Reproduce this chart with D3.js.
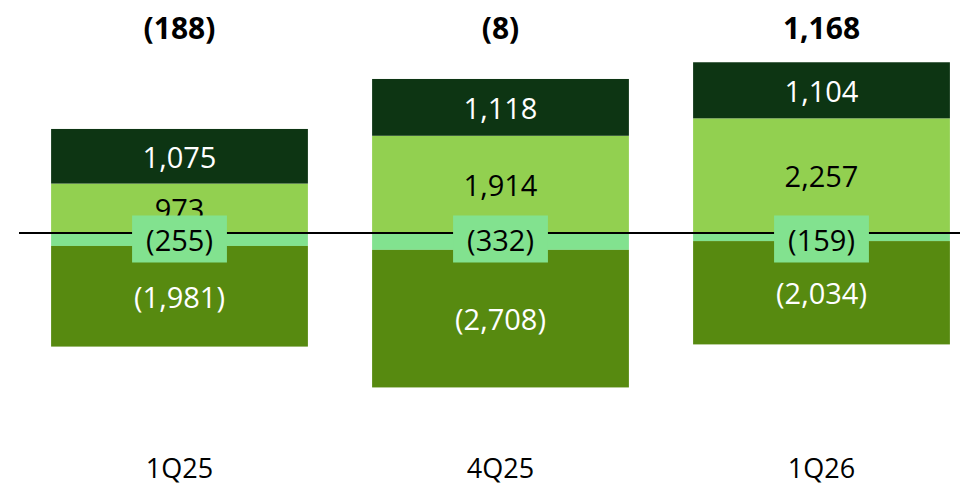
<!DOCTYPE html>
<html>
<head>
<meta charset="utf-8">
<script src="https://cdn.jsdelivr.net/npm/d3@7"></script>
<style>
  html, body { margin: 0; padding: 0; background: #fff; }
  svg { display: block; font-family: "Open Sans", sans-serif; }
</style>
</head>
<body>
<svg id="chart" width="960" height="486"></svg>
<script>
// Quarterly bridge: two positive contributions, two negative, net total on top
const categories = ["1Q25", "4Q25", "1Q26"];
const topValues = [1075, 1118, 1104];        // dark green, stacked highest
const upperValues = [973, 1914, 2257];       // light green, sits on zero
const smallNegValues = [-255, -332, -159];   // mint, just below zero
const largeNegValues = [-1981, -2708, -2034];// olive, bottom of stack

const seriesDefs = [
  { key: "upper", values: upperValues, fill: "#92D050", text: "#000" },
  { key: "top", values: topValues, fill: "#0D3513", text: "#fff" },
  { key: "smallNeg", values: smallNegValues, fill: "#82E28F", text: "#000" },
  { key: "largeNeg", values: largeNegValues, fill: "#578A10", text: "#fff" }
];

const totals = categories.map((c, i) =>
  topValues[i] + upperValues[i] + smallNegValues[i] + largeNegValues[i]);

const fmt = v => v < 0 ? "(" + d3.format(",")(-v) + ")" : d3.format(",")(v);

const svg = d3.select("#chart");
const W = 960, H = 486;

const x = d3.scaleBand()
  .domain(categories)
  .range([19, 982])
  .paddingInner(0.2)
  .paddingOuter(0.1);

const y = d3.scaleLinear()
  .domain([-3000, 4000])
  .range([385.4, 29.8]);

// Build stacked segments: positives upward from zero, negatives downward
const segments = [];
categories.forEach((c, i) => {
  let pos = 0, neg = 0;
  seriesDefs.forEach(s => {
    const v = s.values[i];
    let y0, y1;
    if (v >= 0) { y0 = pos; y1 = pos + v; pos = y1; }
    else { y0 = neg; y1 = neg + v; neg = y1; }
    segments.push({ cat: c, key: s.key, value: v, y0, y1, fill: s.fill, text: s.text });
  });
});

const bars = svg.append("g");
bars.selectAll("rect")
  .data(segments)
  .join("rect")
  .attr("x", d => x(d.cat))
  .attr("width", x.bandwidth())
  .attr("y", d => Math.min(y(d.y0), y(d.y1)))
  .attr("height", d => Math.abs(y(d.y0) - y(d.y1)))
  .attr("fill", d => d.fill);

// Labels for all segments except the mint ones (those get boxed labels)
svg.append("g").selectAll("text")
  .data(segments.filter(d => d.key !== "smallNeg"))
  .join("text")
  .attr("x", d => x(d.cat) + x.bandwidth() / 2)
  .attr("y", d => y((d.y0 + d.y1) / 2))
  .attr("text-anchor", "middle")
  .attr("dominant-baseline", "central")
  .attr("font-size", 29)
  .attr("fill", d => d.text)
  .text(d => fmt(d.value));

// Zero baseline
svg.append("line")
  .attr("x1", 19).attr("x2", W)
  .attr("y1", y(0)).attr("y2", y(0))
  .attr("stroke", "#000")
  .attr("stroke-width", 1.8);

// Boxed labels for the mint segment, straddling the zero line
const boxG = svg.append("g").selectAll("g")
  .data(segments.filter(d => d.key === "smallNeg"))
  .join("g")
  .attr("transform", d => `translate(${x(d.cat) + x.bandwidth() / 2},${y(0) + 6})`);

boxG.append("text")
  .attr("text-anchor", "middle")
  .attr("dominant-baseline", "central")
  .attr("font-size", 29)
  .attr("fill", "#000")
  .text(d => fmt(d.value));

boxG.each(function() {
  const g = d3.select(this);
  const bb = g.select("text").node().getBBox();
  g.insert("rect", "text")
    .attr("x", bb.x - 14)
    .attr("width", bb.width + 28)
    .attr("y", -23.5)
    .attr("height", 47)
    .attr("fill", "#82E28F");
});

// Net totals above each bar
svg.append("g").selectAll("text")
  .data(categories)
  .join("text")
  .attr("x", d => x(d) + x.bandwidth() / 2)
  .attr("y", 39)
  .attr("text-anchor", "middle")
  .attr("font-size", 30)
  .attr("font-weight", 700)
  .attr("fill", "#000")
  .text((d, i) => fmt(totals[i]));

// Category labels
svg.append("g").selectAll("text")
  .data(categories)
  .join("text")
  .attr("x", d => x(d) + x.bandwidth() / 2)
  .attr("y", 478)
  .attr("text-anchor", "middle")
  .attr("font-size", 27)
  .attr("fill", "#000")
  .text(d => d);
</script>
</body>
</html>
